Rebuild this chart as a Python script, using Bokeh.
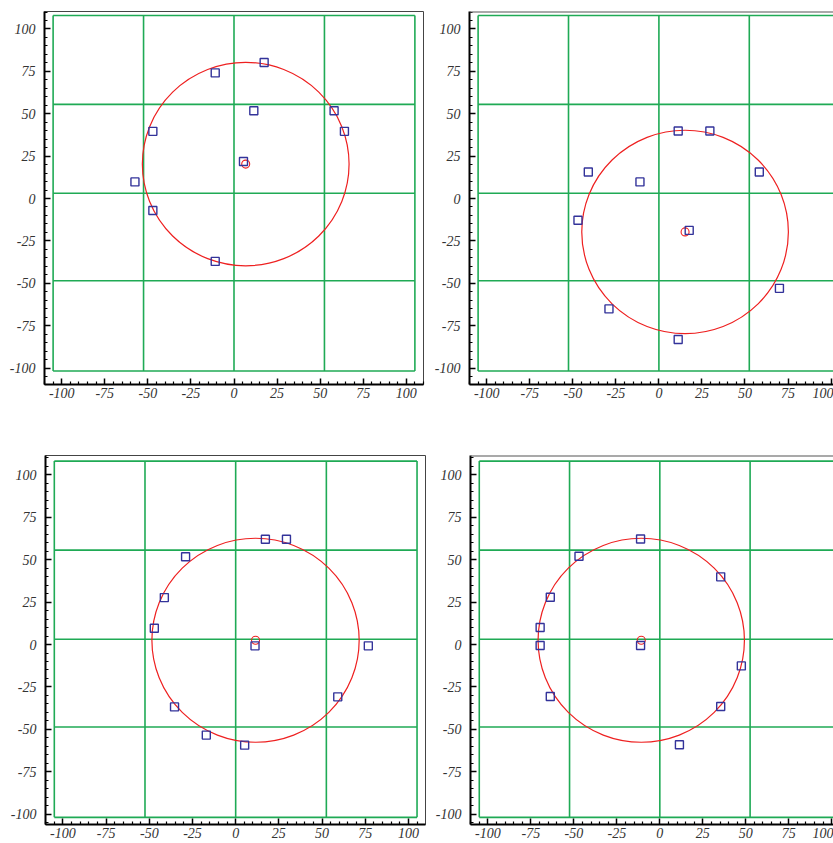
from bokeh.plotting import figure
from bokeh.layouts import row, column
from bokeh.models import FixedTicker, Span, Range1d
from bokeh.embed import file_html
from bokeh.resources import INLINE

# ---- shared grid / ticks ----
grid_x = [-105, -52.5, 0, 52.5, 105]
grid_y = [-101.7, -48.5, 3.1, 55.5, 107.9]
major_ticks = [-100, -75, -50, -25, 0, 25, 50, 75, 100]
tick_labels = ["-100", "-75", "-50", "-25", "0", "25", "50", "75", "100"]
minor_ticks = [-110, -105, -95, -90, -85, -80, -70, -65, -60, -55, -45, -40, -35, -30,
               -20, -15, -10, -5, 5, 10, 15, 20, 30, 35, 40, 45, 55, 60, 65, 70,
               80, 85, 90, 95, 105, 110]

# ---- panel 1 (top left) ----
sq_x_1 = [17.5, -10.9, 11.5, 58.1, 64.1, -47.1, 5.5, -57.5, -47.1, -10.9]
sq_y_1 = [80.2, 74.1, 51.8, 51.8, 39.6, 39.6, 21.8, 9.8, -7.1, -37.1]
circ_1 = (6.8, 20.3, 60.0)

# ---- panel 2 (top right) ----
sq_x_2 = [11.2, 29.6, -41.0, -11.0, 58.3, -47.0, 17.6, 70.0, -29.0, 11.2]
sq_y_2 = [39.8, 39.8, 15.6, 9.8, 15.6, -12.8, -18.8, -53.0, -65.1, -83.2]
circ_2 = (15.2, -19.7, 60.0)

# ---- panel 3 (bottom left) ----
sq_x_3 = [17.2, 29.4, -29.0, -41.3, -47.1, 11.2, 76.8, 59.1, -35.4, -17.0, 5.2]
sq_y_3 = [61.9, 61.9, 51.6, 27.6, 9.6, -0.8, -0.8, -30.8, -36.7, -53.3, -59.2]
circ_3 = (11.5, 2.5, 60.0)

# ---- panel 4 (bottom right) ----
sq_x_4 = [-11.2, -47.0, 35.4, -63.7, -69.6, -69.6, -11.2, 47.4, -63.7, 35.4, 11.4]
sq_y_4 = [62.1, 51.9, 39.8, 27.8, 10.0, -0.6, -0.6, -12.6, -30.6, -36.5, -59.0]
circ_4 = (-10.8, 2.5, 60.0)

GREEN = "#1faa55"
BLUE = "#33339a"
RED = "#ee2020"
FONT = "Liberation Serif"


def panel(sq_x, sq_y, circ, width, height, xr, yr, mb, right_side):
    p = figure(width=width, height=height, output_backend="svg", toolbar_location=None,
               x_range=Range1d(*xr), y_range=Range1d(*yr),
               min_border_left=mb[0], min_border_right=mb[1],
               min_border_top=mb[2], min_border_bottom=mb[3])
    p.xgrid.visible = False
    p.ygrid.visible = False
    p.background_fill_color = "white"
    p.border_fill_color = "white"
    if right_side:
        p.outline_line_color = None
        p.add_layout(Span(location=yr[1], dimension="width", line_color="#555555", line_width=2))
    else:
        p.outline_line_color = "#444444"
        p.outline_line_width = 1
    for ax in (p.xaxis[0], p.yaxis[0]):
        ax.ticker = FixedTicker(ticks=major_ticks, minor_ticks=minor_ticks)
        ax.major_label_overrides = dict(zip(major_ticks, tick_labels))
        ax.axis_line_color = "black"
        ax.axis_line_width = 2
        ax.major_tick_line_color = "black"
        ax.major_tick_line_width = 1.5
        ax.minor_tick_line_color = "black"
        ax.minor_tick_line_width = 1.2
        ax.major_tick_in = 6
        ax.major_tick_out = 0
        ax.minor_tick_in = 3
        ax.minor_tick_out = 0
        ax.major_label_text_font = FONT
        ax.major_label_text_font_style = "italic"
        ax.major_label_text_font_size = "14px"
        ax.major_label_text_color = "#333333"
    p.yaxis[0].major_label_standoff = 9
    p.xaxis[0].major_label_standoff = 3

    # green grid of cells
    p.segment(x0=grid_x, y0=[grid_y[0]] * len(grid_x), x1=grid_x, y1=[grid_y[-1]] * len(grid_x),
              line_color=GREEN, line_width=1.6)
    p.segment(x0=[grid_x[0]] * len(grid_y), y0=grid_y, x1=[grid_x[-1]] * len(grid_y), y1=grid_y,
              line_color=GREEN, line_width=1.6)

    # fitted circle and its centre
    cx, cy, r = circ
    p.ellipse(x=[cx], y=[cy], width=[2 * r], height=[2 * r], fill_color=None,
              line_color=RED, line_width=1.2)
    p.scatter(x=[cx], y=[cy], marker="circle", size=8, fill_color=None,
              line_color=RED, line_width=1.1)

    # hits
    p.scatter(x=sq_x, y=sq_y, marker="square", size=8, fill_color=None,
              line_color=BLUE, line_width=1.4)
    return p


p1 = panel(sq_x_1, sq_y_1, circ_1, 425, 446, (-110, 110), (-109.7, 110.3), (44, 2, 11, 62), False)
p2 = panel(sq_x_2, sq_y_2, circ_2, 408, 446, (-110, 101.4), (-109.7, 110.3), (44, 0, 11, 62), True)
p3 = panel(sq_x_3, sq_y_3, circ_3, 426, 397, (-110.1, 109.9), (-105.9, 111.2), (45, 1, 9, 19), False)
p4 = panel(sq_x_4, sq_y_4, circ_4, 407, 397, (-110.1, 101.0), (-105.9, 111.2), (44, 0, 9, 19), True)

layout = column(row(p1, p2), row(p3, p4))

open("out.html", "w").write(file_html(layout, INLINE))
